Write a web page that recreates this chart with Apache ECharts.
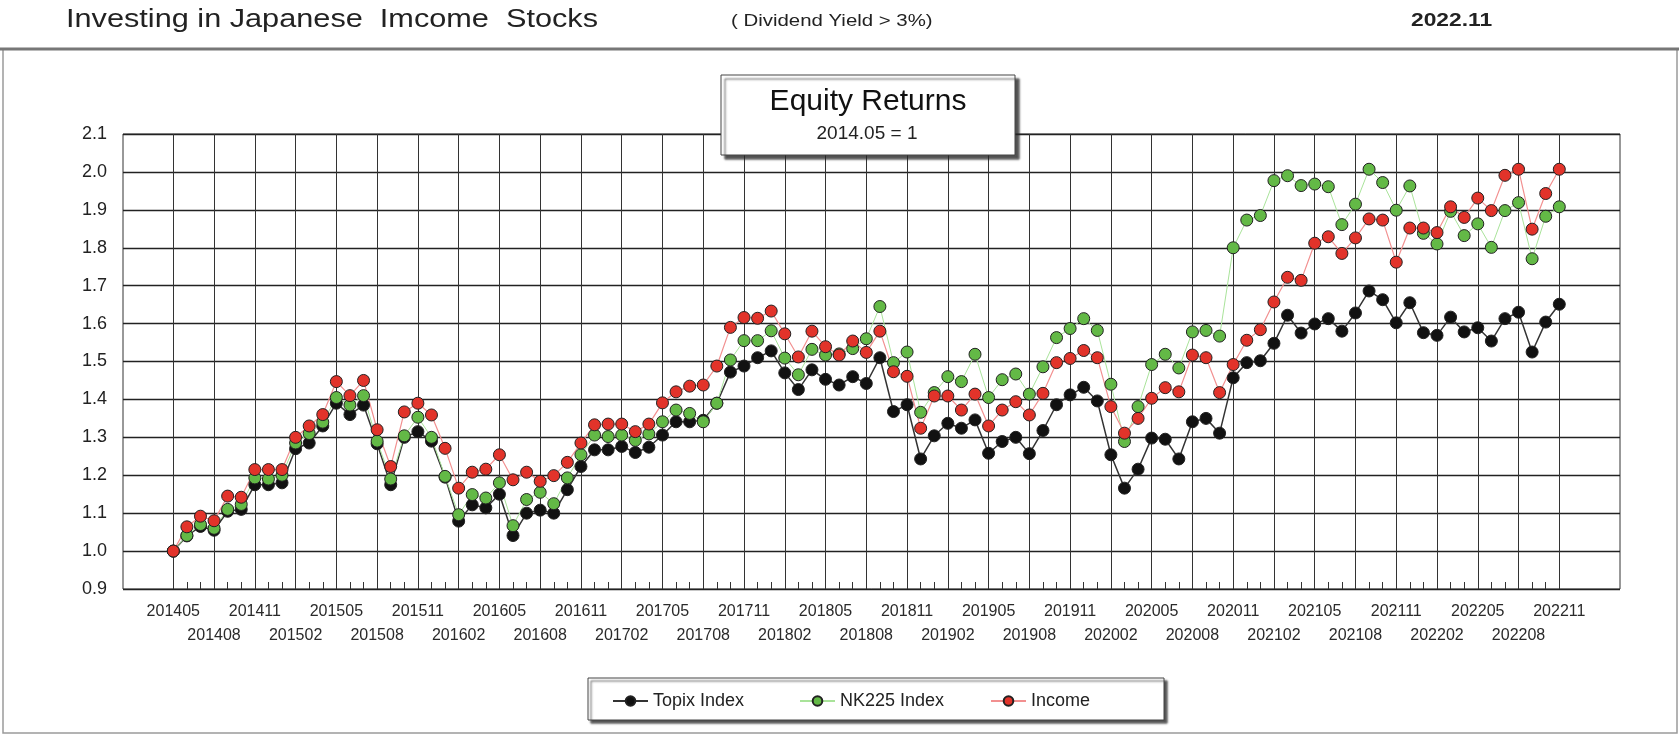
<!doctype html>
<html lang="en">
<head>
  <meta charset="UTF-8">
  <script src="https://cdn.jsdelivr.net/npm/echarts@6/dist/echarts.min.js"></script>
  <title>Equity Returns</title>
  <style type="text/css">
    html, body {
      width: 100%;
      height: 100%;
      margin: 0;
      padding: 0;
      background-color: #ffffff;
    }

    #canvas {
      width: 1679px;
      height: 735px;
    }
  </style>
</head>

<body>
<div id="canvas"></div>

<script type="text/javascript">
  const months = [
    '201405', '201406', '201407', '201408', '201409', '201410', '201411', '201412',
    '201501', '201502', '201503', '201504', '201505', '201506', '201507', '201508', '201509', '201510', '201511', '201512',
    '201601', '201602', '201603', '201604', '201605', '201606', '201607', '201608', '201609', '201610', '201611', '201612',
    '201701', '201702', '201703', '201704', '201705', '201706', '201707', '201708', '201709', '201710', '201711', '201712',
    '201801', '201802', '201803', '201804', '201805', '201806', '201807', '201808', '201809', '201810', '201811', '201812',
    '201901', '201902', '201903', '201904', '201905', '201906', '201907', '201908', '201909', '201910', '201911', '201912',
    '202001', '202002', '202003', '202004', '202005', '202006', '202007', '202008', '202009', '202010', '202011', '202012',
    '202101', '202102', '202103', '202104', '202105', '202106', '202107', '202108', '202109', '202110', '202111', '202112',
    '202201', '202202', '202203', '202204', '202205', '202206', '202207', '202208', '202209', '202210', '202211'
  ]

  const topix = [
    1.00, 1.04, 1.065, 1.055, 1.105, 1.11, 1.175, 1.175, 1.18, 1.27,
    1.285, 1.33, 1.39, 1.36, 1.385, 1.283, 1.175, 1.30, 1.315, 1.29,
    1.195, 1.079, 1.122, 1.114, 1.15, 1.041, 1.10, 1.108, 1.10, 1.162,
    1.223, 1.267, 1.267, 1.276, 1.26, 1.274, 1.306, 1.341, 1.341, 1.345,
    1.39, 1.472, 1.488, 1.51, 1.528, 1.47, 1.426, 1.478, 1.453, 1.438,
    1.46, 1.442, 1.51, 1.368, 1.386, 1.243, 1.304, 1.337, 1.324, 1.346,
    1.258, 1.289, 1.30, 1.257, 1.318, 1.386, 1.412, 1.432, 1.396, 1.254,
    1.166, 1.216, 1.298, 1.295, 1.243, 1.341, 1.35, 1.311, 1.457, 1.497,
    1.502, 1.548, 1.622, 1.575, 1.599, 1.613, 1.58, 1.628, 1.686, 1.663,
    1.602, 1.655, 1.576, 1.569, 1.617, 1.578, 1.589, 1.554, 1.613, 1.63,
    1.525, 1.604, 1.651
  ]

  const nk225 = [
    1.00, 1.041, 1.07, 1.06, 1.11, 1.123, 1.193, 1.19, 1.20, 1.285,
    1.31, 1.34, 1.405, 1.385, 1.41, 1.29, 1.19, 1.304, 1.353, 1.30,
    1.197, 1.096, 1.149, 1.14, 1.18, 1.067, 1.136, 1.155, 1.125, 1.193,
    1.254, 1.306, 1.302, 1.306, 1.292, 1.309, 1.341, 1.372, 1.363, 1.341,
    1.39, 1.504, 1.555, 1.555, 1.581, 1.509, 1.465, 1.532, 1.517, 1.52,
    1.534, 1.56, 1.645, 1.497, 1.525, 1.366, 1.418, 1.46, 1.447, 1.519,
    1.405, 1.452, 1.467, 1.414, 1.486, 1.563, 1.587, 1.613, 1.582, 1.44,
    1.289, 1.381, 1.492, 1.519, 1.483, 1.578, 1.582, 1.567, 1.80, 1.873,
    1.885, 1.977, 1.99, 1.964, 1.968, 1.961, 1.861, 1.915, 2.007, 1.972,
    1.899, 1.963, 1.838, 1.81, 1.896, 1.832, 1.863, 1.801, 1.898, 1.919,
    1.771, 1.883, 1.908
  ]

  const income = [
    1.00, 1.064, 1.092, 1.08, 1.145, 1.142, 1.215, 1.215, 1.215, 1.30,
    1.33, 1.36, 1.447, 1.41, 1.45, 1.32, 1.223, 1.367, 1.39, 1.359,
    1.271, 1.166, 1.208, 1.216, 1.254, 1.188, 1.208, 1.184, 1.199, 1.234,
    1.285, 1.333, 1.335, 1.335, 1.315, 1.335, 1.391, 1.42, 1.435, 1.438,
    1.488, 1.59, 1.616, 1.614, 1.633, 1.573, 1.512, 1.58, 1.539, 1.517,
    1.554, 1.524, 1.58, 1.473, 1.461, 1.324, 1.409, 1.409, 1.372, 1.414,
    1.33, 1.372, 1.394, 1.359, 1.416, 1.497, 1.508, 1.529, 1.51, 1.381,
    1.311, 1.35, 1.403, 1.431, 1.42, 1.517, 1.51, 1.418, 1.492, 1.556,
    1.584, 1.657, 1.722, 1.714, 1.812, 1.829, 1.785, 1.826, 1.876, 1.873,
    1.762, 1.852, 1.852, 1.84, 1.908, 1.88, 1.931, 1.898, 1.991, 2.007,
    1.849, 1.943, 2.007
  ]

  const seriesNames = ['Topix Index', 'NK225 Index', 'Income']

  const canvas = document.getElementById('canvas')
  const chart = echarts.init(canvas, null, { renderer: 'canvas' })

  const font = 'Liberation Sans, Arial, sans-serif'
  const asPairs = arr => arr.map((v, i) => [i, v])

  // month axis geometry: 201405 sits at x=173.3, 202211 at x=1559.3
  const monthW = (1559.3 - 173.3) / 102

  const makeSeries = (name, data, fill, line, lineWidth) => ({
    name: name,
    type: 'line',
    xAxisIndex: 1,
    yAxisIndex: 1,
    symbol: 'circle',
    symbolSize: 12,
    showAllSymbol: true,
    lineStyle: { color: line, width: lineWidth },
    itemStyle: { color: fill, borderColor: '#222', borderWidth: 1 },
    emphasis: { disabled: true },
    data: asPairs(data),
  })

  const legendAt = (name, left) => ({
    data: [name],
    left: left,
    top: 687,
    itemWidth: 35,
    itemHeight: 12,
    itemGap: 0,
    textStyle: { fontFamily: font, fontSize: 18, color: '#222' },
  })

  const monthLabel = {
    lineHeight: 24,
    fontSize: 16,
    fontFamily: font,
    color: '#2a2a2a',
    showMinLabel: true,
    showMaxLabel: true,
    hideOverlap: false,
  }

  chart.setOption({
    animation: false,
    backgroundColor: '#ffffff',
    grid: [
      {
        left: 123, right: 59, top: 134, bottom: 146,
        show: true, borderColor: '#333', borderWidth: 1,
        outerBoundsMode: 'none', containLabel: false,
      },
      {
        left: 173.3, right: 1679 - 1559.3, top: 134, bottom: 146,
        outerBoundsMode: 'none', containLabel: false,
      },
      {
        // second row of month labels (201408, 201502, ...)
        left: 173.3 + 3 * monthW, right: 1679 - 1559.3 + 3 * monthW, top: 134, bottom: 146,
        outerBoundsMode: 'none', containLabel: false,
      },
    ],
    xAxis: [
      {
        gridIndex: 0, type: 'value', min: 0, max: 1, show: false,
      },
      {
        gridIndex: 1,
        type: 'value',
        min: 0,
        max: 102,
        interval: 3,
        axisLine: { show: false },
        axisTick: { show: false },
        minorTick: { show: true, splitNumber: 3, length: -7, lineStyle: { color: '#333', width: 1 } },
        splitLine: { show: true, lineStyle: { color: '#333', width: 1 } },
        axisLabel: Object.assign({}, monthLabel, {
          margin: 11,
          formatter: value => {
            const idx = Math.round(value)
            return Math.round(idx / 3) % 2 === 0 ? (months[idx] || '') : ''
          }
        }),
      },
      {
        gridIndex: 2,
        type: 'value',
        min: 3,
        max: 99,
        interval: 6,
        axisLine: { show: false },
        axisTick: { show: false },
        splitLine: { show: false },
        axisLabel: Object.assign({}, monthLabel, {
          margin: 35,
          formatter: value => months[Math.round(value)] || '',
        }),
      },
    ],
    yAxis: [
      {
        gridIndex: 0,
        type: 'value',
        min: 0.9,
        max: 2.1,
        interval: 0.1,
        axisLine: { show: false },
        axisTick: { show: false },
        splitLine: { show: true, lineStyle: { color: '#222', width: 1.4 } },
        axisLabel: {
          margin: 16,
          fontSize: 18,
          fontFamily: font,
          color: '#222',
          formatter: v => v.toFixed(1),
        },
      },
      {
        gridIndex: 1, type: 'value', min: 0.9, max: 2.1, show: false,
      },
      {
        gridIndex: 2, type: 'value', min: 0.9, max: 2.1, show: false,
      },
    ],
    legend: [
      legendAt(seriesNames[0], 607),
      legendAt(seriesNames[1], 794),
      legendAt(seriesNames[2], 985),
    ],
    series: [
      makeSeries(seriesNames[0], topix, '#111111', '#333333', 1.5),
      makeSeries(seriesNames[1], nk225, '#63b946', '#a9e39a', 1),
      makeSeries(seriesNames[2], income, '#e2332a', '#f29090', 1.2),
    ],
    graphic: [
      // page frame and header rule
      {
        type: 'rect', z: 1,
        shape: { x: 3, y: 49, width: 1674, height: 684 },
        style: { fill: null, stroke: '#9a9a9a', lineWidth: 1.5 },
      },
      {
        type: 'line', z: 2,
        shape: { x1: 0, y1: 49, x2: 1679, y2: 49 },
        style: { stroke: '#777', lineWidth: 3 },
      },
      // header texts
      {
        type: 'text', x: 66, y: 20, scaleX: 1.18, z: 2,
        style: {
          text: 'Investing in Japanese  Imcome  Stocks',
          fontFamily: font, fontSize: 26, fill: '#222',
          textAlign: 'left', textVerticalAlign: 'middle',
        },
      },
      {
        type: 'text', x: 731, y: 21, scaleX: 1.2, z: 2,
        style: {
          text: '( Dividend Yield > 3%)',
          fontFamily: font, fontSize: 17, fill: '#222',
          textAlign: 'left', textVerticalAlign: 'middle',
        },
      },
      {
        type: 'text', x: 1411, y: 21, scaleX: 1.2, z: 2,
        style: {
          text: '2022.11',
          fontFamily: font, fontSize: 19, fontWeight: 'bold', fill: '#222',
          textAlign: 'left', textVerticalAlign: 'middle',
        },
      },
      // chart title box
      {
        type: 'rect', z: 100,
        shape: { x: 721, y: 75, width: 294, height: 80 },
        style: {
          fill: '#ffffff', stroke: '#444', lineWidth: 1,
          shadowColor: 'rgba(40,40,40,0.8)', shadowBlur: 2, shadowOffsetX: 4, shadowOffsetY: 4,
        },
      },
      {
        type: 'text', x: 868, y: 102, z: 101,
        style: {
          text: 'Equity Returns',
          fontFamily: font, fontSize: 30, fill: '#111',
          textAlign: 'center', textVerticalAlign: 'middle',
        },
      },
      {
        type: 'text', x: 867, y: 134, z: 101,
        style: {
          text: '2014.05 = 1',
          fontFamily: font, fontSize: 19, fill: '#222',
          textAlign: 'center', textVerticalAlign: 'middle',
        },
      },
      // legend box
      {
        type: 'rect', z: -1,
        shape: { x: 588, y: 678, width: 576, height: 42 },
        style: {
          fill: '#ffffff', stroke: '#444', lineWidth: 1,
          shadowColor: 'rgba(40,40,40,0.8)', shadowBlur: 2, shadowOffsetX: 3, shadowOffsetY: 3,
        },
      },
    ],
  })
</script>
</body>
</html>
